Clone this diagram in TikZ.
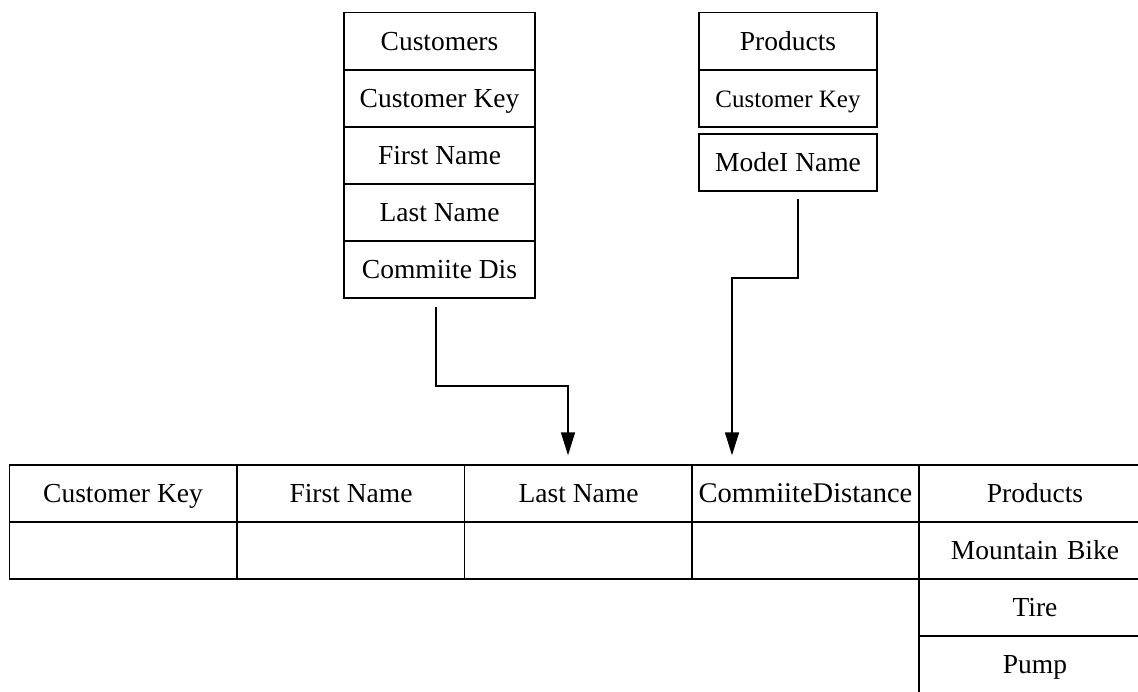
\documentclass[tikz,border=0pt]{standalone}
\usepackage{fontspec}
\setmainfont{Liberation Serif}
\usetikzlibrary{arrows.meta}
\begin{document}
\begin{tikzpicture}[x=1pt,y=-1pt,
  cell/.style={draw,line width=1.3pt,inner sep=0pt,text height=24pt,text depth=6pt,font=\fontsize{27.5}{33}\selectfont},
  cw/.style={minimum width=191pt,minimum height=57pt},
  pw/.style={minimum width=178pt,minimum height=57pt},
  bw/.style={minimum width=227.5pt,minimum height=57pt},
  rw/.style={minimum width=232pt,minimum height=57pt,text width=219pt,align=center},
  arr/.style={line width=1.3pt,-{Triangle[width=14pt,length=23pt]}}]
\useasboundingbox (0,0) rectangle (1138,691);
% Customers table
\node[cell,cw] (ch) at (439.5,41) {Customers};
\node[cell,cw] (ck) at (439.5,98.5) {Customer Key};
\node[cell,cw] (cf) at (439.5,155.5) {First Name};
\node[cell,cw] (cl) at (439.5,212.5) {Last Name};
\node[cell,cw] (cd) at (439.5,269.5) {Commiite Dis};
% Products table
\node[cell,pw] (ph) at (788,41) {Products};
\node[cell,pw,font=\fontsize{25}{30}\selectfont] (pk) at (788,98.5) {Customer Key};
\node[cell,pw] (pm) at (788,162.5) {ModeI Name};
% Bottom table
\node[cell,bw] (bk) at (123,493.5) {Customer Key};
\node[cell,bw] (bf) at (351,493.5) {First Name};
\node[cell,bw] (bl) at (578.5,493.5) {Last Name};
\node[cell,bw,font=\fontsize{28.5}{33}\selectfont] (bc) at (805.5,493.5) {CommiiteDistance};
\node[cell,bw] (bk2) at (123,550.5) {};
\node[cell,bw] (bf2) at (351,550.5) {};
\node[cell,bw] (bl2) at (578.5,550.5) {};
\node[cell,bw] (bc2) at (805.5,550.5) {};
% Products column (right edge runs off the picture)
\node[cell,rw] (bp) at (1035,493.5) {Products};
\node[cell,rw] (bp1) at (1035,550.5) {Mountain Bike};
\node[cell,rw] (bp2) at (1035,607.5) {Tire};
\node[cell,rw] (bp3) at (1035,664.5) {Pump};
% Connectors
\coordinate (bend1) at (568,386);
\coordinate (bend2) at (732,278);
\draw[arr] ([xshift=-3.5pt,yshift=-8pt]cd.south) |- (bend1) -- ([xshift=-10.5pt,yshift=9pt]bl.north);
\draw[arr] ([xshift=10pt,yshift=-7pt]pm.south) |- (bend2) -- ([xshift=-73.5pt,yshift=9pt]bc.north);
\end{tikzpicture}
\end{document}
